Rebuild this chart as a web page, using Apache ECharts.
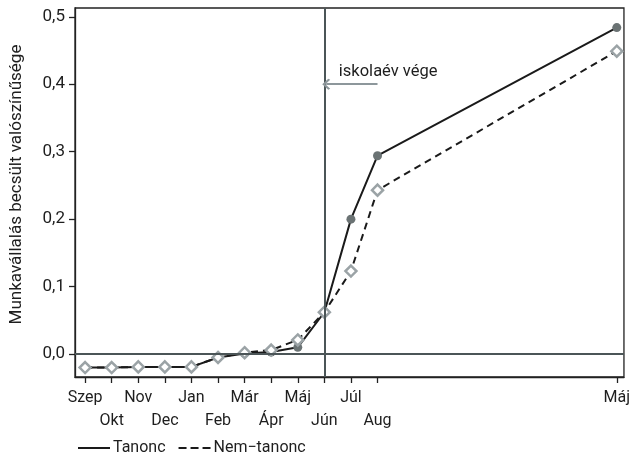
<!DOCTYPE html>
<html><head><meta charset="utf-8">
<script src="https://cdn.jsdelivr.net/npm/echarts@6/dist/echarts.min.js"></script>
<style>html,body{margin:0;padding:0;background:#fff}#c{width:633px;height:464px}</style>
</head><body><div id="c"></div>
<script>
const monthLabels = ['Szep','Okt','Nov','Dec','Jan','Feb','Már','Ápr','Máj','Jún','Júl','Aug','Máj'];
const monthIndex = [0,1,2,3,4,5,6,7,8,9,10,11,20];
const tanonc = [-0.020,-0.020,-0.019,-0.019,-0.019,-0.005,0.001,0.003,0.010,0.062,0.200,0.294,0.484];
const nemTanonc = [-0.020,-0.020,-0.019,-0.019,-0.019,-0.005,0.002,0.006,0.021,0.062,0.123,0.243,0.449];
const yTicks = [0,0.1,0.2,0.3,0.4,0.5];
const schoolEndIndex = 9;
const annotationText = 'iskolaév vége';
const seriesNames = ['Tanonc','Nem\u2212tanonc'];

const FONT = 'Roboto';
const INK = '#1e1e1e';
const chart = echarts.init(document.getElementById('c'), null, {renderer:'canvas'});
const pair = (ys) => monthIndex.map((x,i)=>[x, ys[i]]);
const chevron = 'path://M5,0 L10,5 L9,6.6 L5,2.6 L1,6.6 L0,5 Z';
const row1 = monthIndex.filter((v,i)=>i%2===0);
const row2 = monthIndex.filter((v,i)=>i%2===1);
const labelOf = (v)=>{const i=monthIndex.indexOf(v); return i<0?'':monthLabels[i];};
const X_MIN = -0.38, X_MAX = 20.27;

chart.setOption({
  animation:false,
  textStyle:{fontFamily:FONT},
  grid:{left:73,right:4,top:8,bottom:87,show:true,borderColor:'#222',borderWidth:1.3,containLabel:false},
  legend:{
    bottom:3,left:72,itemWidth:32,itemHeight:14,itemGap:12,
    itemStyle:{opacity:0},
    textStyle:{fontFamily:FONT,fontSize:16,color:INK,padding:[0,0,0,-2]},
    data:[{name:seriesNames[0]},{name:seriesNames[1],lineStyle:{type:[8,4]}}]
  },
  xAxis:[{
    type:'value',min:X_MIN,max:X_MAX,position:'bottom',
    splitLine:{show:false},
    axisLine:{onZero:false,lineStyle:{color:'#222',width:1.3}},
    axisTick:{inside:false,customValues:monthIndex,length:6,lineStyle:{color:'#222',width:1.3}},
    axisLabel:{
      customValues:row1,showMinLabel:true,showMaxLabel:true,
      margin:13,fontSize:16,color:INK,fontFamily:FONT,formatter:labelOf
    }
  },{
    type:'value',min:X_MIN,max:X_MAX,position:'bottom',offset:0,
    splitLine:{show:false},
    axisLine:{show:false,onZero:false},
    axisTick:{show:false},
    axisLabel:{
      customValues:row2,showMinLabel:true,showMaxLabel:true,
      margin:36,fontSize:16,color:INK,fontFamily:FONT,formatter:labelOf
    }
  }],
  yAxis:{
    type:'value',min:-0.034,max:0.513,
    name:'Munkavállalás becsült valószínűsége',nameLocation:'middle',nameGap:50,
    nameTextStyle:{fontSize:17,color:INK,fontFamily:FONT,padding:[0,0,0,16]},
    splitLine:{show:false},
    axisLine:{onZero:false,lineStyle:{color:'#222',width:1.3}},
    axisTick:{inside:false,customValues:yTicks,length:6,lineStyle:{color:'#222',width:1.3}},
    axisLabel:{customValues:yTicks,margin:10,fontSize:17,color:INK,fontFamily:FONT,
      formatter:(v)=>v.toFixed(1).replace('.',',')}
  },
  series:[
    {
      type:'line',name:'refs',data:[],z:1,silent:true,
      markLine:{
        silent:true,animation:false,
        symbol:'none',label:{show:false},
        lineStyle:{color:'#4b5557',width:2,type:'solid'},
        data:[
          {xAxis:schoolEndIndex},
          {yAxis:0},
          [{coord:[11,0.4],symbol:'none',lineStyle:{color:'#8d979b',width:2,type:'solid'}},
           {coord:[schoolEndIndex+0.07,0.4],symbol:chevron,symbolSize:[11,8]}]
        ]
      },
      markPoint:{
        silent:true,
        data:[{coord:[11.4,0.418],symbol:'circle',symbolSize:0,
          label:{show:true,position:'inside',formatter:annotationText,color:INK,fontSize:16.5,fontFamily:FONT}}]
      }
    },
    {
      type:'line',name:seriesNames[0],data:pair(tanonc),z:2,
      symbol:'circle',symbolSize:9,
      lineStyle:{color:'#1a1a1a',width:2},
      itemStyle:{color:'#6b7374',borderWidth:0},
      emphasis:{disabled:true}
    },
    {
      type:'line',name:seriesNames[1],data:pair(nemTanonc),z:3,
      symbol:'diamond',symbolSize:11,
      lineStyle:{color:'#1a1a1a',width:2,type:[7,5]},
      itemStyle:{color:'#fff',borderColor:'#9ba3a6',borderWidth:2.5},
      emphasis:{disabled:true}
    }
  ]
});
</script></body></html>
